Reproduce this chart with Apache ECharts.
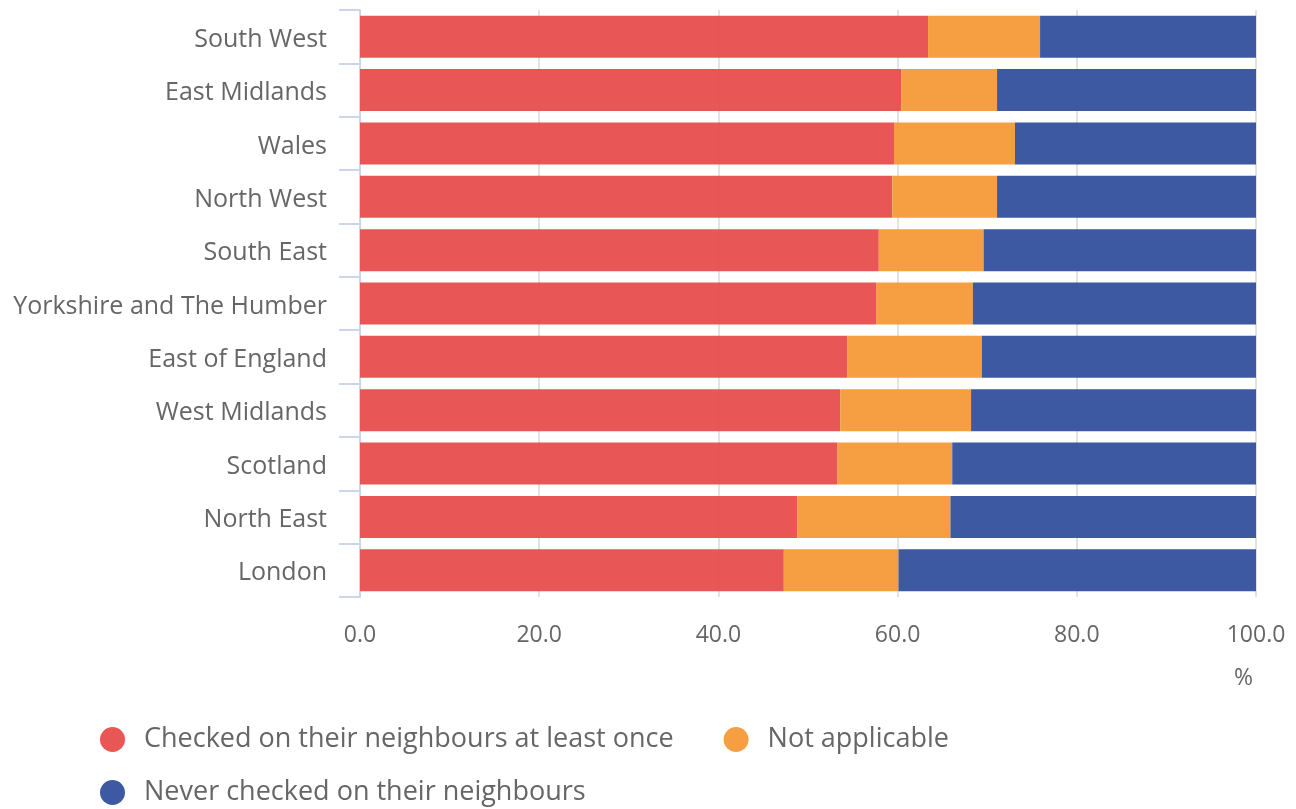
<!DOCTYPE html>
<html>
<head>
<meta charset="utf-8">
<script src="https://cdn.jsdelivr.net/npm/echarts@6/dist/echarts.min.js"></script>
<style>
  html, body { margin: 0; padding: 0; background: #fff; }
  #chart { width: 1296px; height: 809px; }
</style>
</head>
<body>
<div id="chart"></div>
<script>
// Regions, top to bottom
const regions = [
  'South West', 'East Midlands', 'Wales', 'North West', 'South East',
  'Yorkshire and The Humber', 'East of England', 'West Midlands',
  'Scotland', 'North East', 'London'
];

// Share of adults (%) in each response group
const checkedAtLeastOnce = [63.4, 60.4, 59.6, 59.4, 57.9, 57.6, 54.4, 53.6, 53.3, 48.8, 47.3];
const notApplicable      = [12.5, 10.7, 13.5, 11.7, 11.7, 10.8, 15.0, 14.6, 12.8, 17.1, 12.8];
const neverChecked       = [24.1, 28.9, 26.9, 28.9, 30.4, 31.6, 30.6, 31.8, 33.9, 34.1, 39.9];

const seriesNames = [
  'Checked on their neighbours at least once',
  'Not applicable',
  'Never checked on their neighbours'
];
const seriesColors = ['#e84f4f', '#f59a3a', '#34529e'];
const xTicks = { min: 0, max: 100, interval: 20 };

const FONT = '"Open Sans", "Noto Sans", sans-serif';
const TEXT = '#666666';

const chart = echarts.init(document.getElementById('chart'), null, { renderer: 'canvas' });

const legendBase = {
  icon: 'circle',
  itemWidth: 25,
  itemHeight: 25,
  itemGap: 50,
  padding: 0,
  orient: 'horizontal',
  textStyle: { color: TEXT, fontSize: 27, fontFamily: FONT, padding: [0, 0, 0, 14] },
  selectedMode: false
};

chart.setOption({
  animation: false,
  backgroundColor: '#ffffff',
  grid: { left: 360, right: 40, top: 10, bottom: 212, containLabel: false },
  legend: [
    Object.assign({}, legendBase, { left: 100, top: 726, data: [seriesNames[0], seriesNames[1]] }),
    Object.assign({}, legendBase, { left: 100, top: 779, data: [seriesNames[2]] })
  ],
  xAxis: {
    type: 'value',
    min: xTicks.min,
    max: xTicks.max,
    interval: xTicks.interval,
    name: '%',
    nameLocation: 'end',
    nameGap: -22,
    nameTextStyle: {
      color: TEXT, fontSize: 23, fontFamily: FONT,
      verticalAlign: 'top', padding: [70, 0, 0, 0]
    },
    axisLine: { show: false },
    axisTick: { show: false },
    axisLabel: {
      color: TEXT, fontSize: 23, fontFamily: FONT, margin: 27,
      formatter: v => v.toFixed(1)
    },
    splitLine: { show: true, lineStyle: { color: '#e3e3e3', width: 2 } }
  },
  yAxis: {
    type: 'category',
    data: regions,
    inverse: true,
    boundaryGap: true,
    axisLine: { show: true, lineStyle: { color: '#ccd6eb', width: 2 } },
    axisTick: { show: true, length: 21, lineStyle: { color: '#ccd6eb', width: 2 } },
    axisLabel: {
      color: TEXT, fontSize: 25, fontFamily: FONT, margin: 33,
      formatter: v => '{r|' + v + '}',
      rich: { r: { color: TEXT, fontSize: 25, fontFamily: FONT, padding: [6, 0, 0, 0] } }
    },
    splitLine: { show: false }
  },
  series: [checkedAtLeastOnce, notApplicable, neverChecked].map((vals, i) => ({
    name: seriesNames[i],
    type: 'bar',
    stack: 'total',
    data: vals,
    barWidth: 42,
    itemStyle: { color: seriesColors[i], opacity: 0.96 },
    emphasis: { disabled: true }
  }))
});
</script>
</body>
</html>
